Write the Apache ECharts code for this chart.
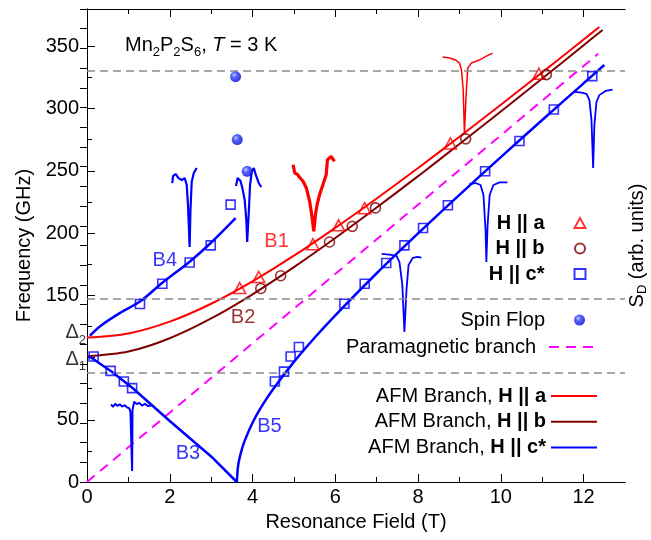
<!DOCTYPE html>
<html>
<head>
<meta charset="utf-8">
<title>Mn2P2S6 AFMR</title>
<script src="https://cdn.jsdelivr.net/npm/echarts@6/dist/echarts.min.js"></script>
<style>
html, body { margin: 0; padding: 0; background: #fff; }
#chart { width: 651px; height: 540px; }
</style>
</head>
<body>
<div id="chart"></div>
<script>
// ticks
var xTicks = [0, 2, 4, 6, 8, 10, 12];
var xMinorTicks = [1, 3, 5, 7, 9, 11];
var yTicks = [0, 50, 100, 150, 200, 250, 300, 350];
var yLabels = [0, 50, 150, 200, 250, 300, 350]; // 100 is replaced by the gap labels
var yMinorTicks = [25, 75, 125, 175, 225, 275, 325];

// measured points [field (T), frequency (GHz)]
var hA = [[3.69,155.8],[4.15,164.7],[5.46,191],[6.08,206.2],[6.71,220],[8.78,272],[10.92,328]];
var hB = [[4.2,155.5],[4.68,165.7],[5.86,192.8],[6.41,205.4],[6.97,220.2],[9.15,275.7],[11.1,327.3]];
var hC = [[0.16,100.8],[0.57,89.3],[0.89,80.7],[1.09,75.4],[1.28,143],[1.82,159.3],[2.48,176.4],[2.99,190.1],[3.47,222.8],
  [4.54,80.7],[4.76,88.7],[4.92,100.8],[5.12,108.4],[6.22,143.2],[6.71,159.3],[7.23,175.9],[7.67,190.1],[8.12,204.1],
  [8.72,222.3],[9.62,249.6],[10.45,274],[11.28,299.3],[12.21,326.1]];
var spinFlop = [[3.59,325.6],[3.63,275.1],[3.87,249.6]];

// model branches
var afmA = [[0,116],[1,119.3],[2,128.8],[3,143.2],[4,161.2],[5,181.8],[6,204.2],[7,227.8],[8,252.3],[9,277.4],[10,303.1],[11,329.1],[12,355.5],[12.38,365.5]];
var afmB = [[0,101],[1,104.8],[2,115.5],[3,131.4],[4,150.8],[5,172.6],[6,196],[7,220.5],[8,245.7],[9,271.5],[10,297.7],[11,324.1],[12,350.9],[12.46,363.2]];
var afmB4 = [[0.07,117.5],[0.31,125],[0.79,135.7],[1.28,145],[1.82,160],[2.48,177],[2.99,192],[3.59,212]];
var afmB3 = [[0.05,101],[0.6,88.5],[1.1,75.5],[2,49],[3,20.5],[3.62,0]];
var afmB5 = [[3.62,0],[3.65,12.8],[3.7,21.2],[3.8,32.2],[4,47.6],[4.25,62.3],[4.5,74.8],[5,96.5],[5.5,115.9],[6,133.9],[7,167.7],[8,199.7],[9,230.7],[10,261],[11,290.8],[12,320.3],[12.5,335]];
var paraBranch = [[0,0],[12.35,344]];
var dashLevels = [330, 147, 87.5];

// spectra [field (T), S_D (arb. units)]
var specRedTop = [[8.59,21.57],[8.76,21.51],[8.91,21.41],[9.0,21.26],[9.05,20.9],[9.09,19.89],[9.12,17.71],[9.16,19.63],[9.2,21.0],[9.29,21.26],[9.48,21.41],[9.65,21.61],[9.8,21.76]];
var specBlue12 = [[11.78,19.8],[11.95,19.76],[12.07,19.69],[12.14,19.38],[12.19,18.37],[12.23,15.93],[12.26,18.11],[12.31,19.28],[12.38,19.63],[12.53,19.84],[12.7,19.91]];
var specBlue96 = [[9.24,15.12],[9.39,15.17],[9.51,15.07],[9.58,14.56],[9.63,12.79],[9.65,11.16],[9.68,13.04],[9.73,14.56],[9.82,15.07],[9.97,15.2],[10.16,15.2]];
var specBlue77 = [[7.12,11.57],[7.31,11.54],[7.48,11.47],[7.55,11.16],[7.62,9.99],[7.67,7.61],[7.72,9.74],[7.77,11.01],[7.87,11.37],[7.99,11.42],[8.08,11.39]];
var specBlue25 = [[2.06,15.17],[2.08,15.52],[2.14,15.63],[2.21,15.42],[2.29,15.32],[2.36,15.42],[2.41,15.07],[2.44,14.05],[2.48,11.92],[2.5,13.8],[2.53,15.22],[2.58,15.68],[2.65,15.93]];
var specBlue39 = [[3.6,15.02],[3.64,15.42],[3.71,15.27],[3.76,14.87],[3.81,14.31],[3.85,13.29],[3.87,12.18],[3.91,13.7],[3.94,15.07],[3.98,15.73],[4.03,15.93],[4.08,15.58],[4.15,15.17],[4.21,14.97]];
var specRed55 = [[4.98,16.1],[5.02,15.68],[5.08,15.62],[5.14,15.45],[5.22,15.26],[5.3,14.92],[5.38,14.24],[5.43,13.56],[5.48,12.72],[5.52,13.56],[5.56,14.07],[5.62,14.58],[5.7,15.08],[5.78,15.59],[5.81,16.35],[5.9,16.52],[5.98,16.27]];
var specBlue11 = [[0.58,3.93],[0.63,3.82],[0.68,3.97],[0.73,3.86],[0.79,3.94],[0.85,3.83],[0.91,3.9],[0.97,3.78],[1.02,3.75],[1.05,3.55],[1.09,0.56],[1.1,3.65],[1.14,4.08],[1.2,3.95],[1.26,4.02],[1.33,3.88],[1.4,3.96],[1.48,3.85],[1.59,3.9]];

// in-plot labels
var branchLabels = [
  {name: 'B1', value: [4.58, 193], color: '#ff0000'},
  {name: 'B2', value: [3.77, 132.3], color: '#800000'},
  {name: 'B3', value: [2.44, 23.1], color: '#0000ff'},
  {name: 'B4', value: [1.88, 178], color: '#0000ff'},
  {name: 'B5', value: [4.41, 44.2], color: '#0000ff'}
];

var FONT = 'Liberation Sans, Arial, sans-serif';
var RED = '#ff0000', BROWN = '#800000', BLUE = '#0000ff', MAG = '#ff00ff';
var NAME_A = 'AFM Branch, H || a', NAME_B = 'AFM Branch, H || b', NAME_C = 'AFM Branch, H || c*';

var chart = echarts.init(document.getElementById('chart'), null, {renderer: 'canvas'});

function tickAxis(pos, ticks, len, extra) {
  var ax = {
    type: 'value', position: pos, min: 0, max: 13,
    axisLine: {show: true, onZero: false, lineStyle: {color: '#000', width: 1}},
    axisTick: {show: true, inside: true, length: len, customValues: ticks, lineStyle: {color: '#000', width: 1}},
    axisLabel: {show: false},
    splitLine: {show: false}
  };
  return Object.assign(ax, extra || {});
}

function specSeries(data, color, width) {
  return {
    type: 'line', yAxisIndex: 2, data: data, symbol: 'none', silent: true,
    lineStyle: {color: color, width: width}, z: 3
  };
}

var lineBase = {type: 'line', symbol: 'none', smooth: 0.3, silent: true, z: 2};
var noSymbol = {color: 'rgba(0,0,0,0)', borderColor: 'rgba(0,0,0,0)', borderWidth: 0};

var option = {
  backgroundColor: '#fff',
  animation: false,
  textStyle: {fontFamily: FONT},
  grid: {left: 87, right: 26, top: 9, bottom: 58, outerBoundsMode: 'none', containLabel: false},
  title: {
    left: 120, top: 26,
    text: '{n|Mn}{s|2}{n|P}{s|2}{n|S}{s|6}{n|, }{i|T}{n| = 3 K}',
    textStyle: {
      fontWeight: 'normal',
      rich: {
        n: {fontSize: 20, fontFamily: FONT, fontWeight: 'normal', color: '#000', lineHeight: 28, verticalAlign: 'middle'},
        i: {fontSize: 20, fontFamily: FONT, fontWeight: 'normal', color: '#000', fontStyle: 'italic', lineHeight: 28, verticalAlign: 'middle'},
        s: {fontSize: 13, fontFamily: FONT, fontWeight: 'normal', color: '#000', lineHeight: 28, verticalAlign: 'bottom'}
      }
    }
  },
  legend: [
    {
      data: ['H || a', 'H || b', 'H || c*'],
      orient: 'vertical', align: 'right', right: 64.5, top: 212, padding: 0,
      itemWidth: 11, itemHeight: 10, itemGap: 3.5, selectedMode: false,
      textStyle: {fontSize: 20, fontWeight: 'bold', fontFamily: FONT, color: '#000', lineHeight: 22, padding: [0, 25, 0, 0]}
    },
    {
      data: ['Spin Flop'],
      orient: 'vertical', align: 'right', right: 66, top: 309, padding: 0,
      itemWidth: 11, itemHeight: 11, selectedMode: false,
      textStyle: {fontSize: 20, fontFamily: FONT, color: '#000', lineHeight: 22, padding: [0, 24, 0, 0]}
    },
    {
      data: ['Paramagnetic branch'],
      orient: 'vertical', align: 'right', right: 54, top: 336, padding: 0,
      itemWidth: 47, itemHeight: 12, selectedMode: false, itemStyle: noSymbol,
      textStyle: {fontSize: 20, fontFamily: FONT, color: '#000', lineHeight: 22, padding: [0, 8, 0, 0]}
    },
    {
      data: [NAME_A, NAME_B, NAME_C],
      orient: 'vertical', align: 'right', right: 53, top: 385, padding: 0,
      itemWidth: 46, itemHeight: 12, itemGap: 3.7, selectedMode: false, itemStyle: noSymbol,
      formatter: function (name) {
        var p = name.split(', ');
        return '{n|' + p[0] + ', }{b|' + p[1] + '}';
      },
      textStyle: {
        width: 178, lineHeight: 22, fontSize: 20, fontFamily: FONT, color: '#000',
        rich: {
          n: {fontSize: 20, fontFamily: FONT, color: '#000'},
          b: {fontSize: 20, fontFamily: FONT, color: '#000', fontWeight: 'bold'}
        }
      }
    }
  ],
  xAxis: [
    tickAxis('bottom', xTicks, 8, {
      axisLabel: {show: true, customValues: xTicks, fontSize: 20, color: '#000', fontFamily: FONT, margin: 5},
      name: 'Resonance Field (T)', nameLocation: 'middle', nameGap: 30,
      nameTextStyle: {fontSize: 20, color: '#000', fontFamily: FONT}
    }),
    tickAxis('bottom', xMinorTicks, 5),
    tickAxis('top', xTicks, 8),
    tickAxis('top', xMinorTicks, 5)
  ],
  yAxis: [
    {
      type: 'value', position: 'left', min: 0, max: 380,
      axisLine: {show: true, lineStyle: {color: '#000', width: 1}},
      axisTick: {show: true, inside: true, length: 8, customValues: yTicks, lineStyle: {color: '#000'}},
      axisLabel: {customValues: yLabels, fontSize: 20, color: '#000', fontFamily: FONT, margin: 8},
      splitLine: {show: false},
      name: 'Frequency (GHz)', nameLocation: 'middle', nameGap: 50, nameRotate: 90,
      nameTextStyle: {fontSize: 20, color: '#000', fontFamily: FONT}
    },
    {
      type: 'value', position: 'left', min: 0, max: 380,
      axisLine: {show: false},
      axisTick: {show: true, inside: true, length: 5, customValues: yMinorTicks, lineStyle: {color: '#000'}},
      axisLabel: {show: false},
      splitLine: {show: false}
    },
    {
      type: 'value', position: 'right', min: 0, max: 24, interval: 1,
      axisLine: {show: true, lineStyle: {color: '#000', width: 1}},
      axisTick: {show: true, inside: true, length: 7, lineStyle: {color: '#000'}},
      axisLabel: {show: false},
      splitLine: {show: false},
      name: '{a|S}{s|D}{a| (arb. units)}', nameLocation: 'middle', nameGap: 0, nameRotate: 90,
      nameTextStyle: {
        rich: {
          a: {fontSize: 20, fontFamily: FONT, color: '#000', lineHeight: 24, verticalAlign: 'middle'},
          s: {fontSize: 13, fontFamily: FONT, color: '#000', lineHeight: 24, verticalAlign: 'bottom'}
        }
      }
    }
  ],
  series: [
    {
      name: 'Paramagnetic branch', type: 'line', data: paraBranch, symbol: 'none', silent: true, z: 1,
      lineStyle: {color: MAG, width: 2, type: [10, 7]},
      markLine: {
        silent: true, symbol: 'none', label: {show: false},
        lineStyle: {color: '#8c8c8c', width: 1.5, type: [8, 5]},
        data: dashLevels.map(function (v) { return {yAxis: v}; })
      }
    },
    Object.assign({name: NAME_A, data: afmA, lineStyle: {color: RED, width: 2}, itemStyle: {color: RED}}, lineBase),
    Object.assign({name: NAME_B, data: afmB, lineStyle: {color: BROWN, width: 2}, itemStyle: {color: BROWN}}, lineBase),
    Object.assign({name: NAME_C, data: afmB4, lineStyle: {color: BLUE, width: 2.5}, itemStyle: {color: BLUE}}, lineBase),
    Object.assign({name: NAME_C, data: afmB3, lineStyle: {color: BLUE, width: 2.5}, itemStyle: {color: BLUE}}, lineBase, {smooth: false}),
    Object.assign({name: NAME_C, data: afmB5, lineStyle: {color: BLUE, width: 2.5}, itemStyle: {color: BLUE}}, lineBase),
    specSeries(specRedTop, RED, 1.5),
    specSeries(specBlue12, BLUE, 1.8),
    specSeries(specBlue96, BLUE, 1.8),
    specSeries(specBlue77, BLUE, 1.8),
    specSeries(specBlue25, BLUE, 2.2),
    specSeries(specBlue39, BLUE, 2.2),
    specSeries(specRed55, RED, 3.2),
    specSeries(specBlue11, BLUE, 2),
    {
      name: 'H || a', type: 'scatter', data: hA, symbol: 'triangle', symbolSize: [12, 11], z: 5,
      itemStyle: {color: 'rgba(255,255,255,0)', borderColor: RED, borderWidth: 1.6}
    },
    {
      name: 'H || b', type: 'scatter', data: hB, symbol: 'circle', symbolSize: 10, z: 5,
      itemStyle: {color: 'rgba(255,255,255,0)', borderColor: BROWN, borderWidth: 1.6}
    },
    {
      name: 'H || c*', type: 'scatter', data: hC, symbol: 'rect', symbolSize: 9, z: 5,
      itemStyle: {color: 'rgba(255,255,255,0)', borderColor: BLUE, borderWidth: 1.6}
    },
    {
      name: 'Spin Flop', type: 'scatter', data: spinFlop, symbol: 'circle', symbolSize: 11, z: 5,
      itemStyle: {
        color: {type: 'radial', x: 0.38, y: 0.35, r: 0.7,
          colorStops: [{offset: 0, color: '#b8c4ff'}, {offset: 0.35, color: '#2a3cff'}, {offset: 1, color: '#0000c8'}]}
      }
    },
    {
      type: 'scatter', silent: true, symbolSize: 0, z: 6,
      data: branchLabels.map(function (d) {
        return {value: d.value, label: {show: true, position: 'inside', formatter: d.name, fontSize: 20, fontFamily: FONT, color: d.color}};
      })
    },
    {
      type: 'scatter', silent: true, symbolSize: 0, z: 6,
      data: [
        {value: [0, 116], label: {show: true, position: 'left', distance: 1, offset: [0, -5], formatter: '{d|Δ}{s|2}'}},
        {value: [0, 101], label: {show: true, position: 'left', distance: 1, offset: [0, 3], formatter: '{d|Δ}{s|1}'}}
      ],
      label: {
        rich: {
          d: {fontSize: 20, fontFamily: FONT, color: '#000', lineHeight: 28, verticalAlign: 'middle'},
          s: {fontSize: 13, fontFamily: FONT, color: '#000', lineHeight: 28, verticalAlign: 'bottom'}
        }
      }
    }
  ]
};

chart.setOption(option);
</script>
</body>
</html>
